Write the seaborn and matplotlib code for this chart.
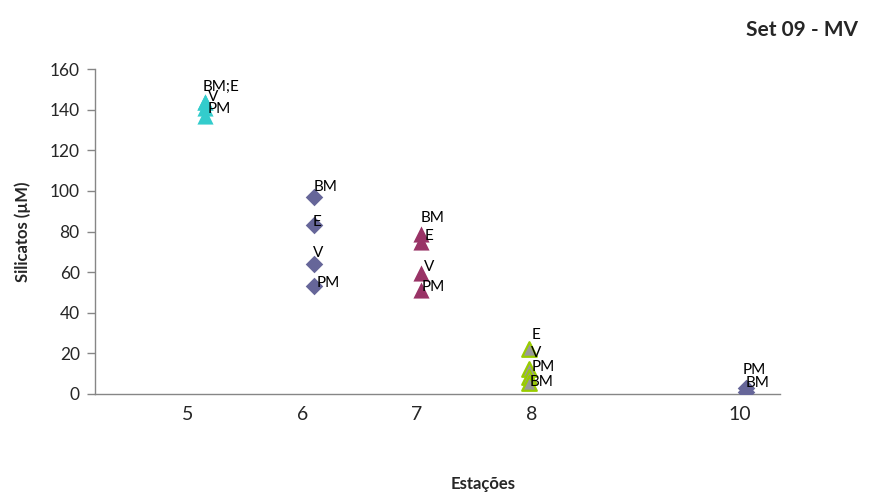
import matplotlib
matplotlib.use("Agg")
import matplotlib.pyplot as plt
import seaborn as sns
import pandas as pd

# ---------------- data ----------------
stations = ["5", "6", "7", "8", "10"]
station_x = [5.15, 6.10, 7.04, 7.98, 9.87]      # where each station's points sit
tick_x = [5.0, 6.0, 7.0, 8.0, 9.82]              # where each station label sits

st5_labels = ["BM;E", "", "V", "PM"]
st5_values = [144, 144, 141, 137]

st6_labels = ["BM", "E", "V", "PM"]
st6_values = [97, 83, 64, 53]

st7_labels = ["BM", "E", "V", "PM"]
st7_values = [79, 75, 59.5, 51]

st8_labels = ["E", "V", "PM", "BM"]
st8_values = [22, 12.5, 8.5, 5.5]

st10_labels = ["PM", "BM"]
st10_values = [3, 1]

# ---------------- styles / layout ----------------
groups = [
    dict(labels=st5_labels, values=st5_values, marker="^", face="#33CCCC", edge="#33CCCC", lw=0, s=135,
         offs=[(-2, 15), (0, 0), (3, 10.6), (3, 6.7)]),
    dict(labels=st6_labels, values=st6_values, marker="D", face="#666699", edge="#666699", lw=0, s=80,
         offs=[(0, 10), (-1, 3.4), (-1, 11), (3, 3.4)]),
    dict(labels=st7_labels, values=st7_values, marker="^", face="#993366", edge="#993366", lw=0, s=135,
         offs=[(-1, 15.6), (3, 5.7), (2, 6), (0, 3.4)]),
    dict(labels=st8_labels, values=st8_values, marker="^", face="#999999", edge="#99CC00", lw=1.6, s=110,
         offs=[(2, 14.3), (2, 15.6), (2, 9.7), (0, 0.8)]),
    dict(labels=st10_labels, values=st10_values, marker="D", face="#666699", edge="#666699", lw=0, s=80,
         offs=[(-3, 18), (0, 9)]),
]

sns.set_theme(style="white")
plt.rcParams["font.family"] = ["Lato", "DejaVu Sans"]

fig = plt.figure(figsize=(8.73, 4.93), dpi=100)
ax = fig.add_axes([95 / 873, 1 - 394 / 493, 685 / 873, 325 / 493])

for xpos, g in zip(station_x, groups):
    df = pd.DataFrame({"x": [xpos] * len(g["values"]), "y": g["values"], "lab": g["labels"]})
    sns.scatterplot(data=df, x="x", y="y", marker=g["marker"], s=g["s"], color=g["face"],
                    edgecolor=g["edge"], linewidth=g["lw"], ax=ax, zorder=3, legend=False)
    for (_, row), (dx, dy) in zip(df.iterrows(), g["offs"]):
        if row["lab"]:
            ax.annotate(row["lab"], (row["x"], row["y"]), xytext=(dx * 0.72, dy * 0.72),
                        textcoords="offset points", ha="left", va="center",
                        fontsize=11, color="black", zorder=5)

ax.set_xlim(4.19, 10.17)
ax.set_ylim(0, 160)
ax.set_yticks(range(0, 161, 20))
ax.set_xticks(tick_x)
ax.set_xticklabels(stations)

for side in ["top", "right"]:
    ax.spines[side].set_visible(False)
for side in ["left", "bottom"]:
    ax.spines[side].set_color("#868686")
    ax.spines[side].set_linewidth(1.0)

ax.tick_params(axis="y", which="major", direction="out", length=6, width=1.0,
               color="#868686", pad=5, labelsize=12.5, left=True)
ax.tick_params(axis="x", which="major", length=0, pad=9, labelsize=14)

ax.set_ylabel("Silicatos (µM)", fontsize=12, fontweight="bold")
ax.yaxis.set_label_coords((31 - 95) / 685, 0.5)
ax.set_xlabel("Estações", fontsize=12, fontweight="bold", va="center")
ax.xaxis.set_label_coords((483 - 95) / 685, (394 - 484) / 325)

fig.text(858 / 873, 1 - 30 / 493, "Set 09 - MV", ha="right", va="center",
         fontsize=15, fontweight="bold")

fig.savefig("out.png", dpi=100)
